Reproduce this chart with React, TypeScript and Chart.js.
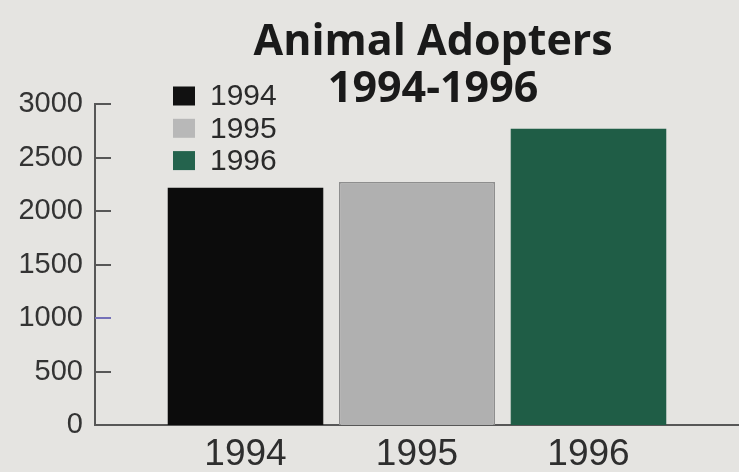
import React, { useEffect, useRef } from "react";
import { Chart, registerables } from "chart.js";

Chart.register(...registerables);

// ---- data ----
const categories = ["1994", "1995", "1996"];
const adopters = [2220, 2270, 2770];
const yTickValues = [0, 500, 1000, 1500, 2000, 2500, 3000];
const titleLines = ["Animal Adopters", "1994-1996"];
const legendLabels = ["1994", "1995", "1996"];

// ---- styles ----
const barColors = ["#0c0c0c", "#b0b0b0", "#1f5d46"];
const barBorders = ["#0c0c0c", "#8e8e8e", "#1f5d46"];
const legendColors = ["#111111", "#b8b8b8", "#24634d"];
const BG = "#e5e4e1";
const AXIS = "#575757";
const TITLE_FONT = "bold 43px 'Open Sans'";

const titlePlugin = {
  id: "customTitle",
  afterDraw(chart: any) {
    const { ctx, chartArea } = chart;
    const cx = chartArea.left + (chartArea.right - chartArea.left) * 0.525;
    ctx.save();
    ctx.fillStyle = "#1a1a1a";
    ctx.textAlign = "center";
    ctx.textBaseline = "alphabetic";
    ctx.font = TITLE_FONT;
    ctx.fillText(titleLines[0], cx, chartArea.top - 49);
    ctx.fillText(titleLines[1], cx, chartArea.top - 2);
    ctx.restore();
  },
};

const legendPlugin = {
  id: "customLegend",
  afterDraw(chart: any) {
    const { ctx, chartArea } = chart;
    const x0 = chartArea.left + 78;
    ctx.save();
    ctx.font = "30px 'Liberation Sans'";
    ctx.textBaseline = "middle";
    ctx.textAlign = "left";
    legendLabels.forEach((lab, i) => {
      const cy = chartArea.top - 8 + i * 32.3;
      ctx.fillStyle = legendColors[i];
      ctx.fillRect(x0, cy - 9.5, 22, 19);
      ctx.fillStyle = "#2a2a2a";
      ctx.fillText(lab, x0 + 37, cy + 1);
    });
    ctx.restore();
  },
};

const innerTicksPlugin = {
  id: "innerTicks",
  afterDraw(chart: any) {
    const { ctx, chartArea, scales } = chart;
    const y = scales.y;
    ctx.save();
    ctx.lineWidth = 2;
    yTickValues.forEach((v) => {
      if (v === 0) return;
      const py = Math.round(y.getPixelForValue(v));
      ctx.strokeStyle = v === 1000 ? "#7470b8" : AXIS;
      ctx.beginPath();
      ctx.moveTo(chartArea.left, py);
      ctx.lineTo(chartArea.left + 16, py);
      ctx.stroke();
    });
    ctx.restore();
  },
};

export default function App() {
  const ref = useRef<HTMLCanvasElement | null>(null);

  useEffect(() => {
    document.body.style.margin = "0";
    const canvas = ref.current;
    if (!canvas) return;
    const chart = new Chart(canvas, {
      type: "bar",
      data: {
        datasets: [
          {
            data: adopters.map((v, i) => ({ x: i, y: v })),
            backgroundColor: barColors,
            borderColor: barBorders,
            borderWidth: 1.5,
            categoryPercentage: 1,
            barPercentage: 0.91,
          },
        ],
      },
      options: {
        responsive: false,
        animation: false,
        layout: { padding: { top: 104, left: 0, right: 0, bottom: 0 } },
        plugins: {
          legend: { display: false },
          title: { display: false },
          tooltip: { enabled: false },
        },
        scales: {
          x: {
            type: "linear",
            offset: false,
            min: -0.8776,
            max: 2.8776,
            afterBuildTicks: (s: any) => {
              s.ticks = categories.map((_, i) => ({ value: i }));
            },
            afterFit: (s: any) => {
              s.height = 47;
            },
            ticks: {
              callback: (v: any) => categories[v] ?? "",
              font: { family: "Liberation Sans", size: 37 },
              color: "#2e2e2e",
              padding: 8,
              autoSkip: false,
              maxRotation: 0,
            },
            grid: { display: false, drawTicks: false, offset: false },
            border: { display: true, color: AXIS, width: 2 },
          },
          y: {
            min: 0,
            max: 3000,
            afterBuildTicks: (s: any) => {
              s.ticks = yTickValues.map((v) => ({ value: v }));
            },
            afterFit: (s: any) => {
              s.width = 95;
            },
            ticks: {
              callback: (v: any) => String(v),
              font: { family: "Liberation Sans", size: 29 },
              color: "#333333",
              padding: 12,
            },
            grid: { display: false, drawTicks: false },
            border: { display: true, color: AXIS, width: 2 },
          },
        },
      },
      plugins: [innerTicksPlugin, legendPlugin, titlePlugin],
    } as any);
    let alive = true;
    const fonts: any = (document as any).fonts;
    if (fonts && fonts.load) {
      Promise.all([
        fonts.load(TITLE_FONT),
        fonts.load("30px 'Liberation Sans'"),
      ])
        .then(() => {
          if (alive) chart.update();
        })
        .catch(() => {});
    }
    return () => {
      alive = false;
      chart.destroy();
    };
  }, []);

  return (
    <div
      style={{
        position: "fixed",
        left: 0,
        top: 0,
        width: 739,
        height: 472,
        background: BG,
        overflow: "hidden",
      }}
    >
      <canvas ref={ref} width={739} height={472} style={{ display: "block" }} />
    </div>
  );
}
